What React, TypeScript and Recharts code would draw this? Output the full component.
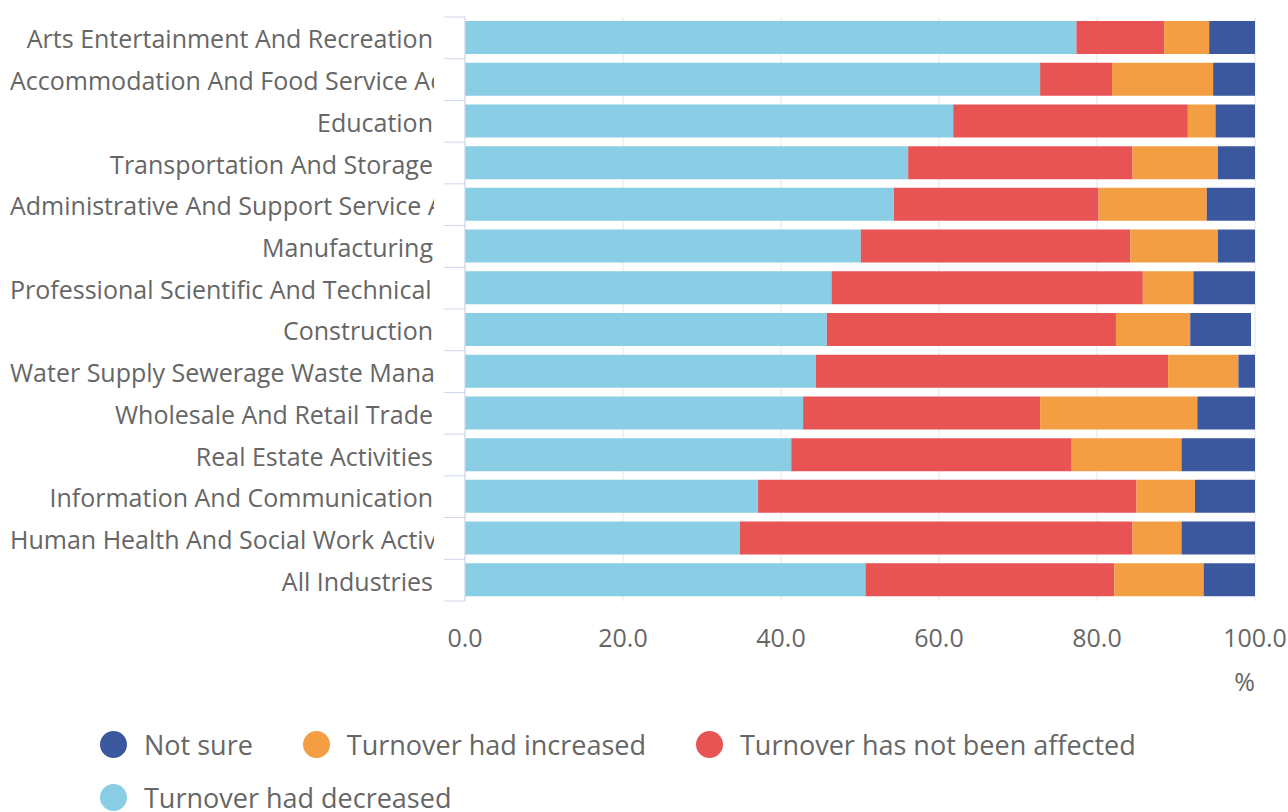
import React from "react";
import { BarChart, Bar, XAxis, YAxis, CartesianGrid, Label } from "recharts";

const industries = [
  "Arts Entertainment And Recreation",
  "Accommodation And Food Service Activities",
  "Education",
  "Transportation And Storage",
  "Administrative And Support Service Activities",
  "Manufacturing",
  "Professional Scientific And Technical Activities",
  "Construction",
  "Water Supply Sewerage Waste Management And Remediation Activities",
  "Wholesale And Retail Trade",
  "Real Estate Activities",
  "Information And Communication",
  "Human Health And Social Work Activities",
  "All Industries",
];

const turnoverDecreased = [77.4, 72.8, 61.8, 56.1, 54.3, 50.1, 46.4, 45.8, 44.4, 42.8, 41.3, 37.1, 34.8, 50.7];
const notAffected = [11.1, 9.1, 29.7, 28.4, 25.9, 34.1, 39.4, 36.6, 44.6, 30.0, 35.5, 47.9, 49.7, 31.5];
const turnoverIncreased = [5.7, 12.8, 3.5, 10.8, 13.7, 11.1, 6.4, 9.4, 8.9, 19.9, 13.9, 7.4, 6.2, 11.3];
const notSure = [5.8, 5.3, 5.0, 4.7, 6.1, 4.7, 7.8, 7.7, 2.1, 7.3, 9.3, 7.6, 9.3, 6.5];

const xTicks = [0, 20, 40, 60, 80, 100];

const series = [
  { key: "decreased", name: "Turnover had decreased", color: "#89CEE4" },
  { key: "notAffected", name: "Turnover has not been affected", color: "#E85354" },
  { key: "increased", name: "Turnover had increased", color: "#F49E44" },
  { key: "notSure", name: "Not sure", color: "#3B579D" },
];

const data = industries.map((name, i) => ({
  name,
  decreased: turnoverDecreased[i],
  notAffected: notAffected[i],
  increased: turnoverIncreased[i],
  notSure: notSure[i],
}));

const FONT = '"Open Sans", sans-serif';
const TEXT = "#666666";
const AXIS = "#ccd6eb";
const LABEL_SIZE = 25;
const PLOT_TOP = 17;
const PLOT_BOTTOM = 601;
const BAND = (PLOT_BOTTOM - PLOT_TOP) / industries.length;

let measureCtx: CanvasRenderingContext2D | null = null;
function textWidth(s: string) {
  if (!measureCtx) measureCtx = document.createElement("canvas").getContext("2d");
  if (!measureCtx) return 0;
  measureCtx.font = `${LABEL_SIZE}px "Open Sans"`;
  return measureCtx.measureText(s).width;
}

// long names are left-aligned and clipped, short ones right-aligned
function CategoryTick(props: any) {
  const { x, y, payload, index } = props;
  const label = String(payload.value);
  const right = x - 32;
  const left = 10;
  const wide = textWidth(label) > right - left;
  const clipId = `ylab-${index}`;
  return (
    <g>
      <line x1={x - 21} x2={x} y1={y - BAND / 2} y2={y - BAND / 2} stroke={AXIS} />
      {index === industries.length - 1 && (
        <line x1={x - 21} x2={x} y1={y + BAND / 2} y2={y + BAND / 2} stroke={AXIS} />
      )}
      <clipPath id={clipId}>
        <rect x={left} y={y - BAND / 2} width={right - left + 1} height={BAND} />
      </clipPath>
      <text
        x={wide ? left : right}
        y={y}
        dy="0.42em"
        textAnchor={wide ? "start" : "end"}
        fill={TEXT}
        fontSize={LABEL_SIZE}
        fontFamily={FONT}
        clipPath={`url(#${clipId})`}
      >
        {label}
      </text>
    </g>
  );
}

function ValueTick(props: any) {
  const { x, y, payload } = props;
  return (
    <text x={x} y={y + 46} textAnchor="middle" fill={TEXT} fontSize={LABEL_SIZE} fontFamily={FONT}>
      {Number(payload.value).toFixed(1)}
    </text>
  );
}

function LegendBlock() {
  const items = [...series].reverse();
  return (
    <div
      style={{
        position: "absolute",
        left: 100,
        top: 731,
        width: 1150,
        display: "flex",
        flexWrap: "wrap",
        columnGap: 50,
        rowGap: 26,
        fontFamily: FONT,
        fontSize: 27,
        color: TEXT,
        lineHeight: "27px",
      }}
    >
      {items.map((s) => (
        <div key={s.key} style={{ display: "flex", alignItems: "center", gap: 17, whiteSpace: "nowrap" }}>
          <span style={{ width: 27, height: 27, borderRadius: "50%", background: s.color, display: "inline-block" }} />
          <span>{s.name}</span>
        </div>
      ))}
    </div>
  );
}

export default function App() {
  return (
    <div style={{ position: "absolute", left: 0, top: 0, width: 1288, height: 812, overflow: "hidden", background: "#fff" }}>
      <BarChart
        width={1288}
        height={812}
        data={data}
        layout="vertical"
        margin={{ top: PLOT_TOP, right: 33, left: 0, bottom: 111 }}
        barSize={33}
      >
        <CartesianGrid horizontal={false} stroke="#e6e6e6" />
        <XAxis
          type="number"
          domain={[0, 100]}
          ticks={xTicks}
          axisLine={false}
          tickLine={false}
          tickSize={0}
          tickMargin={0}
          height={100}
          tick={<ValueTick />}
          interval={0}
        >
          <Label
            content={(p: any) => {
              const vb = p.viewBox;
              return (
                <text x={vb.x + vb.width} y={vb.y + 90} textAnchor="end" fill={TEXT} fontSize={LABEL_SIZE} fontFamily={FONT}>
                  %
                </text>
              );
            }}
          />
        </XAxis>
        <YAxis
          type="category"
          dataKey="name"
          width={465}
          axisLine={{ stroke: AXIS }}
          tickLine={false}
          tickSize={0}
          tickMargin={0}
          interval={0}
          tick={<CategoryTick />}
        />
        {series.map((s) => (
          <Bar key={s.key} dataKey={s.key} name={s.name} stackId="a" fill={s.color} isAnimationActive={false} />
        ))}
      </BarChart>
      <LegendBlock />
    </div>
  );
}
